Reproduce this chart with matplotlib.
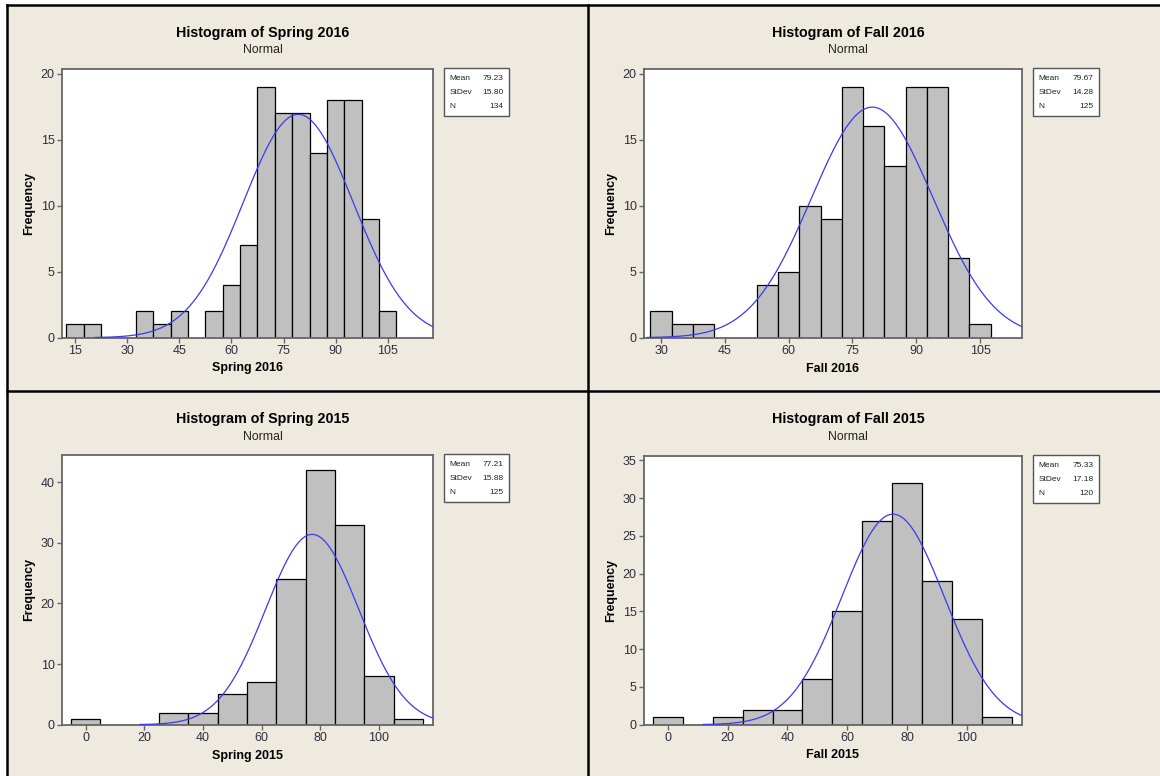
import numpy as np
import matplotlib
matplotlib.use("Agg")
import matplotlib.pyplot as plt
from matplotlib.patches import Rectangle
from matplotlib.lines import Line2D

plt.rcParams['font.family'] = ['Liberation Sans', 'DejaVu Sans']

# ---------------- data ----------------
titles = ["Spring 2016", "Fall 2016", "Spring 2015", "Fall 2015"]

spring16_start, spring16_width = 12.5, 5
spring16_counts = [1, 1, 0, 0, 2, 1, 2, 0, 2, 4, 7, 19, 17, 17, 14, 18, 18, 9, 2]
spring16_stats = (79.23, 15.80, 134)

fall16_start, fall16_width = 27.5, 5
fall16_counts = [2, 1, 1, 0, 0, 4, 5, 10, 9, 19, 16, 13, 19, 19, 6, 1]
fall16_stats = (79.67, 14.28, 125)

spring15_start, spring15_width = -5, 10
spring15_counts = [1, 0, 0, 2, 2, 5, 7, 24, 42, 33, 8, 1]
spring15_stats = (77.21, 15.88, 125)

fall15_start, fall15_width = -5, 10
fall15_counts = [1, 0, 1, 2, 2, 6, 15, 27, 32, 19, 14, 1]
fall15_stats = (75.33, 17.18, 120)

spring16_xticks = [15, 30, 45, 60, 75, 90, 105]
fall16_xticks = [30, 45, 60, 75, 90, 105]
spring15_xticks = [0, 20, 40, 60, 80, 100]
fall15_xticks = [0, 20, 40, 60, 80, 100]
spring16_yticks = [0, 5, 10, 15, 20]
fall16_yticks = [0, 5, 10, 15, 20]
spring15_yticks = [0, 10, 20, 30, 40]
fall15_yticks = [0, 5, 10, 15, 20, 25, 30, 35]

# ---------------- layout ----------------
W, H = 1160, 776
BG = "#EEEAE0"
fig = plt.figure(figsize=(W / 100, H / 100), dpi=100)
fig.patch.set_facecolor("white")


def fx(px):
    return px / W


def fy(py):
    return 1 - py / H


# beige panel area and dividers
fig.add_artist(Rectangle((fx(7), 0), 1 - fx(7), fy(5), transform=fig.transFigure,
                         facecolor=BG, edgecolor="none", zorder=0))
for (x0, y0, x1, y1) in [(7, 5, 1160, 5), (7, 5, 7, 776), (588, 5, 588, 776), (7, 391, 1160, 391)]:
    fig.add_artist(Line2D([fx(x0), fx(x1)], [fy(y0), fy(y1)], transform=fig.transFigure,
                          color="black", lw=1.8, zorder=1))

panels = [
    dict(name=titles[0], start=spring16_start, width=spring16_width, counts=spring16_counts,
         stats=spring16_stats, xticks=spring16_xticks, yticks=spring16_yticks,
         box=(62.3, 433.3, 69, 337.7), xlim=(11.34, 118.1), ylim=(0, 20.35),
         tx=263, ty=32.7, sty=50, xly=368.5, ylx=29, leg=(444.3, 509.3, 68.3, 115.7)),
    dict(name=titles[1], start=fall16_start, width=fall16_width, counts=fall16_counts,
         stats=fall16_stats, xticks=fall16_xticks, yticks=fall16_yticks,
         box=(644.3, 1021.7, 69, 337.7), xlim=(26.07, 114.8), ylim=(0, 20.35),
         tx=848.3, ty=32.7, sty=50, xly=368.5, ylx=611, leg=(1033.3, 1099.3, 68.3, 115.7)),
    dict(name=titles[2], start=spring15_start, width=spring15_width, counts=spring15_counts,
         stats=spring15_stats, xticks=spring15_xticks, yticks=spring15_yticks,
         box=(62.3, 433.3, 455, 724.7), xlim=(-7.98, 118.5), ylim=(0, 44.5),
         tx=263, ty=419.5, sty=436.5, xly=755.5, ylx=29, leg=(444.3, 509.3, 454, 501.7)),
    dict(name=titles[3], start=fall15_start, width=fall15_width, counts=fall15_counts,
         stats=fall15_stats, xticks=fall15_xticks, yticks=fall15_yticks,
         box=(644.3, 1021.7, 455.7, 724.7), xlim=(-7.93, 118.4), ylim=(0, 35.6),
         tx=848.3, ty=419.5, sty=436.5, xly=755.5, ylx=611, leg=(1033.3, 1099.3, 455.3, 502.7)),
]

SPINE = "#666666"
TICKC = "#2E2E3E"

for p in panels:
    l, r, t, b = p["box"]
    ax = fig.add_axes([fx(l), fy(b), fx(r - l), (b - t) / H])
    ax.set_facecolor("white")
    counts = np.array(p["counts"])
    lefts = p["start"] + p["width"] * np.arange(len(counts))
    ax.bar(lefts, counts, width=p["width"], align="edge", color="#C0C0C0",
           edgecolor="black", linewidth=0.9, zorder=2)
    mean, sd, n = p["stats"]
    x0 = max(mean - 3.7 * sd, p["xlim"][0])
    xs = np.linspace(x0, p["xlim"][1], 400)
    ys = n * p["width"] * np.exp(-0.5 * ((xs - mean) / sd) ** 2) / (sd * np.sqrt(2 * np.pi))
    ax.plot(xs, ys, color="#3A3AF0", lw=0.9, zorder=3)
    ax.set_xlim(*p["xlim"])
    ax.set_ylim(*p["ylim"])
    ax.set_xticks(p["xticks"])
    ax.set_yticks(p["yticks"])
    ax.tick_params(direction="out", length=3.5, width=1, color=SPINE,
                   labelsize=9, labelcolor=TICKC, pad=2)
    for s in ax.spines.values():
        s.set_color(SPINE)
        s.set_linewidth(1.3)

    fig.text(fx(p["tx"]), fy(p["ty"]), "Histogram of " + p["name"], ha="center", va="center",
             fontsize=10.3, fontweight="bold", color="black")
    fig.text(fx(p["tx"]), fy(p["sty"]), "Normal", ha="center", va="center",
             fontsize=8.8, color="#222222")
    fig.text(fx((l + r) / 2), fy(p["xly"]), p["name"], ha="center", va="center",
             fontsize=9, fontweight="bold", color="black")
    fig.text(fx(p["ylx"]), fy((t + b) / 2), "Frequency", ha="center", va="center",
             rotation=90, fontsize=9, fontweight="bold", color="black")

    # statistics box
    ll, lr, lt, lb = p["leg"]
    fig.add_artist(Rectangle((fx(ll), fy(lb)), fx(lr - ll), (lb - lt) / H,
                             transform=fig.transFigure, facecolor="white",
                             edgecolor="#555555", lw=1.0, zorder=3))
    rows = [("Mean", f"{mean:.2f}"), ("StDev", f"{sd:.2f}"), ("N", f"{n}")]
    for i, (lab, val) in enumerate(rows):
        yy = lt + 10 + i * 14.2
        fig.text(fx(ll + 5.5), fy(yy), lab, ha="left", va="center", fontsize=6,
                 color="#222222", zorder=4)
        fig.text(fx(lr - 5.5), fy(yy), val, ha="right", va="center", fontsize=6,
                 color="#222222", zorder=4)

fig.savefig("out.png", dpi=100, facecolor=fig.get_facecolor())
